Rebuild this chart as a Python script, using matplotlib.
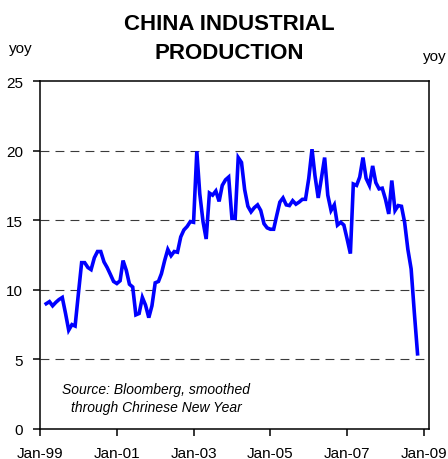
import numpy as np
import pandas as pd
import matplotlib
matplotlib.use("Agg")
import matplotlib.pyplot as plt
import matplotlib.dates as mdates

plt.rcParams['font.family'] = ['Liberation Sans', 'DejaVu Sans']

# China industrial production, % yoy, monthly from Mar-99 to Nov-08
start_month = "1999-03-01"
ip_yoy = [
    9.0, 9.15, 8.85, 9.1, 9.3, 9.45, 8.3, 7.1, 7.5, 7.4,            # 1999
    9.7, 11.95, 11.95, 11.6, 11.45, 12.3, 12.75, 12.75, 12.0, 11.6, 11.1, 10.6,  # 2000
    10.45, 10.65, 12.1, 11.4, 10.4, 10.2, 8.2, 8.3, 9.45, 8.9, 8.0, 8.85,        # 2001
    10.5, 10.6, 11.15, 12.1, 12.9, 12.45, 12.75, 12.7, 13.8, 14.3, 14.55, 14.9,   # 2002
    14.85, 19.95, 16.9, 14.9, 13.65, 16.95, 16.8, 17.1, 16.35, 17.5, 17.9, 18.1,  # 2003
    15.13, 15.13, 19.5, 19.15, 17.2, 16.0, 15.6, 15.9, 16.1, 15.7, 14.75, 14.45,  # 2004
    14.35, 14.35, 15.3, 16.3, 16.6, 16.1, 16.05, 16.4, 16.15, 16.3, 16.5, 16.5,   # 2005
    18.0, 20.1, 18.2, 16.6, 18.0, 19.5, 16.8, 15.7, 16.1, 14.65, 14.85, 14.65,    # 2006
    13.65, 12.6, 17.6, 17.5, 18.1, 19.5, 18.0, 17.5, 18.9, 17.7, 17.25, 17.3,     # 2007
    16.5, 15.45, 17.85, 15.7, 16.05, 16.0, 14.85, 12.9, 11.5, 8.4, 5.4,           # 2008
]
y_ticks = [0, 5, 10, 15, 20, 25]
x_tick_years = [1999, 2001, 2003, 2005, 2007, 2009]

dates = pd.date_range(start_month, periods=len(ip_yoy), freq="MS")

fig = plt.figure(figsize=(4.48, 4.60), dpi=100)
ax = fig.add_axes([40 / 448, 1 - 430 / 460, 389 / 448, 348 / 460])

ax.plot(dates, ip_yoy, color="#0000ff", lw=2.6, solid_joinstyle="miter", zorder=3)

ax.set_ylim(0, 25)
ax.set_yticks(y_ticks)
ax.set_xlim(pd.Timestamp("1999-01-01"), pd.Timestamp("2009-02-18"))
ax.set_xticks([pd.Timestamp(f"{y}-01-01") for y in x_tick_years])
ax.xaxis.set_major_formatter(mdates.DateFormatter("%b-%y"))

for v in y_ticks[1:-1]:
    ax.axhline(v, color="#3a3a3a", lw=0.8, ls=(0, (8, 5.5)), zorder=1)

for s in ax.spines.values():
    s.set_linewidth(1.1)
ax.tick_params(axis="both", direction="out", length=5, width=1.1,
               labelsize=11, pad=7, top=False, right=False)

ax.text(0.298, 0.089, "Source: Bloomberg, smoothed\nthrough Chrinese New Year",
        transform=ax.transAxes, ha="center", va="center", fontsize=10,
        style="italic", linespacing=1.35)

fig.text(229 / 448, 1 - 39 / 460, "CHINA INDUSTRIAL\nPRODUCTION",
         ha="center", va="center", fontsize=16, fontweight="bold", linespacing=1.5)
fig.text(9 / 448, 1 - 49 / 460, "yoy", ha="left", va="center", fontsize=11)
fig.text(447 / 448, 1 - 57 / 460, "yoy", ha="right", va="center", fontsize=11)

fig.savefig("out.png", dpi=100)
